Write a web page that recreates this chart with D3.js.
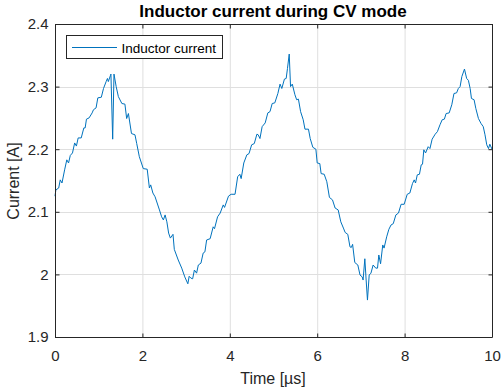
<!DOCTYPE html>
<html><head><meta charset="utf-8">
<script src="https://cdn.jsdelivr.net/npm/d3@7"></script>
<style>body{margin:0;background:#fff}svg{display:block}text{font-family:"Liberation Sans",Arial,sans-serif}</style>
</head><body><svg id="c" width="502" height="388"></svg>
<script>
const timeUs = [0,0.02,0.085,0.12,0.16,0.22,0.27,0.31,0.35,0.4,0.45,0.49,0.53,0.6,0.66,0.69,0.72,0.78,0.85,0.88,0.94,0.98,1.06,1.11,1.17,1.2,1.22,1.27,1.28,1.32,1.35,1.4,1.45,1.53,1.6,1.64,1.68,1.75,1.83,1.87,1.93,2.02,2.11,2.16,2.19,2.24,2.29,2.39,2.44,2.48,2.52,2.56,2.6,2.64,2.7,2.73,2.82,2.9,2.97,3.04,3.07,3.11,3.15,3.19,3.24,3.28,3.34,3.39,3.43,3.47,3.55,3.62,3.65,3.72,3.78,3.85,3.88,3.97,4.03,4.12,4.18,4.23,4.26,4.32,4.39,4.44,4.5,4.56,4.62,4.65,4.69,4.74,4.81,4.87,4.92,4.97,5.03,5.1,5.15,5.19,5.25,5.29,5.32,5.36,5.39,5.43,5.49,5.53,5.57,5.62,5.68,5.72,5.8,5.84,5.9,5.97,6.0,6.06,6.09,6.16,6.22,6.28,6.35,6.41,6.48,6.54,6.6,6.64,6.7,6.75,6.78,6.81,6.86,6.93,6.98,7.03,7.05,7.09,7.12,7.15,7.19,7.23,7.28,7.34,7.38,7.41,7.45,7.5,7.53,7.59,7.64,7.69,7.74,7.8,7.86,7.92,7.99,8.06,8.12,8.18,8.22,8.25,8.29,8.34,8.38,8.41,8.44,8.48,8.54,8.58,8.63,8.7,8.75,8.81,8.86,8.91,8.95,9.02,9.08,9.13,9.19,9.23,9.27,9.31,9.37,9.42,9.46,9.5,9.53,9.59,9.63,9.69,9.75,9.8,9.84,9.88,9.92,9.95,10.0];
const currentA = [2.125,2.135,2.138,2.151,2.146,2.167,2.183,2.178,2.19,2.194,2.21,2.205,2.218,2.218,2.234,2.234,2.248,2.25,2.258,2.263,2.266,2.282,2.283,2.297,2.308,2.313,2.308,2.318,2.32,2.216,2.32,2.3,2.284,2.273,2.272,2.249,2.257,2.225,2.223,2.209,2.188,2.169,2.168,2.138,2.143,2.13,2.124,2.103,2.092,2.087,2.095,2.084,2.066,2.058,2.064,2.04,2.023,2.01,1.996,1.985,1.997,1.994,1.993,2.007,2.002,2.015,2.018,2.034,2.036,2.055,2.057,2.076,2.073,2.092,2.098,2.111,2.107,2.125,2.128,2.128,2.156,2.16,2.153,2.178,2.191,2.193,2.207,2.209,2.224,2.223,2.217,2.236,2.242,2.258,2.26,2.273,2.274,2.289,2.304,2.297,2.312,2.313,2.329,2.352,2.3,2.304,2.287,2.279,2.28,2.26,2.247,2.232,2.232,2.217,2.203,2.2,2.178,2.177,2.161,2.16,2.148,2.123,2.119,2.106,2.103,2.084,2.074,2.067,2.064,2.044,2.043,2.048,2.019,2.015,1.999,1.996,1.991,2.025,1.991,1.959,1.999,2.002,2.015,2.01,2.01,2.031,2.017,2.047,2.042,2.06,2.072,2.079,2.081,2.095,2.098,2.112,2.112,2.128,2.13,2.145,2.151,2.146,2.159,2.16,2.175,2.176,2.199,2.194,2.204,2.201,2.216,2.224,2.228,2.239,2.247,2.248,2.257,2.258,2.271,2.289,2.29,2.297,2.3,2.316,2.328,2.313,2.31,2.297,2.281,2.279,2.265,2.249,2.241,2.236,2.223,2.207,2.201,2.208,2.2];
const xTicks = [0,2,4,6,8,10];
const yTicks = [1.9,2,2.1,2.2,2.3,2.4];
const yTickLabels = ["1.9","2","2.1","2.2","2.3","2.4"];
const titleText = "Inductor current during CV mode";
const xLabel = "Time [µs]";
const yLabel = "Current [A]";
const legendLabel = "Inductor current";

const svg = d3.select("#c");
const L=55,R=492,T=24,B=337;
const x = d3.scaleLinear().domain([0,10]).range([L,R]);
const y = d3.scaleLinear().domain([1.9,2.4]).range([B,T]);
const axisCol="#262626";

// grid
const g = svg.append("g");
g.selectAll(".gx").data(xTicks).join("line").attr("x1",d=>x(d)+0.5).attr("x2",d=>x(d)+0.5).attr("y1",T).attr("y2",B).attr("stroke","#dfdfdf").attr("stroke-width",1);
g.selectAll(".gy").data(yTicks).join("line").attr("y1",d=>Math.round(y(d))+0.5).attr("y2",d=>Math.round(y(d))+0.5).attr("x1",L).attr("x2",R).attr("stroke","#dfdfdf").attr("stroke-width",1);

// line
svg.append("path").datum(timeUs.map((t,i)=>[t,currentA[i]]))
  .attr("d",d3.line().x(d=>x(d[0])).y(d=>y(d[1])))
  .attr("fill","none").attr("stroke","#0072BD").attr("stroke-width",1);

// axes
const tl=4;
const ax = svg.append("g").attr("transform",`translate(0,${B+0.5})`).call(d3.axisBottom(x).tickValues(xTicks).tickSize(-tl).tickPadding(12.5).tickFormat(d3.format("d")));
const axT = svg.append("g").attr("transform",`translate(0,${T+0.5})`).call(d3.axisTop(x).tickValues(xTicks).tickSize(-tl).tickFormat(""));
const ay = svg.append("g").attr("transform",`translate(${L+0.5},0)`).call(d3.axisLeft(y).tickValues(yTicks).tickSize(-tl).tickPadding(7).tickFormat((d,i)=>yTickLabels[i]));
const ayR = svg.append("g").attr("transform",`translate(${R+0.5},0)`).call(d3.axisRight(y).tickValues(yTicks).tickSize(-tl).tickFormat(""));
[ax,axT,ay,ayR].forEach(a=>{a.select(".domain").attr("stroke",axisCol);a.selectAll(".tick line").attr("stroke",axisCol);a.selectAll("text").attr("fill",axisCol).style("font-size","15px").style("font-family","Liberation Sans, Arial, sans-serif");});
ax.selectAll(".domain").attr("d",`M${L},0H${R}`);
axT.selectAll(".domain").attr("d",`M${L},0H${R}`);
ay.selectAll(".domain").attr("d",`M0,${T}V${B}`);
ayR.selectAll(".domain").attr("d",`M0,${T}V${B}`);

// labels
svg.append("text").attr("x",273).attr("y",17).attr("text-anchor","middle").attr("font-weight","bold").attr("font-size","17px").attr("fill","#000").text(titleText);
svg.append("text").attr("x",273).attr("y",384).attr("text-anchor","middle").attr("font-size","16px").attr("fill",axisCol).text(xLabel);
svg.append("text").attr("transform","translate(19,181) rotate(-90)").attr("text-anchor","middle").attr("font-size","16px").attr("fill",axisCol).text(yLabel);

// legend
const lg = svg.append("g");
lg.append("rect").attr("x",66.5).attr("y",35.5).attr("width",156).attr("height",23).attr("fill","#fff").attr("stroke",axisCol).attr("stroke-width",1);
lg.append("line").attr("x1",72).attr("x2",117).attr("y1",47.5).attr("y2",47.5).attr("stroke","#0072BD").attr("stroke-width",1);
lg.append("text").attr("x",121.5).attr("y",52.5).attr("font-size","13.5px").attr("fill","#000").text(legendLabel);
</script></body></html>
